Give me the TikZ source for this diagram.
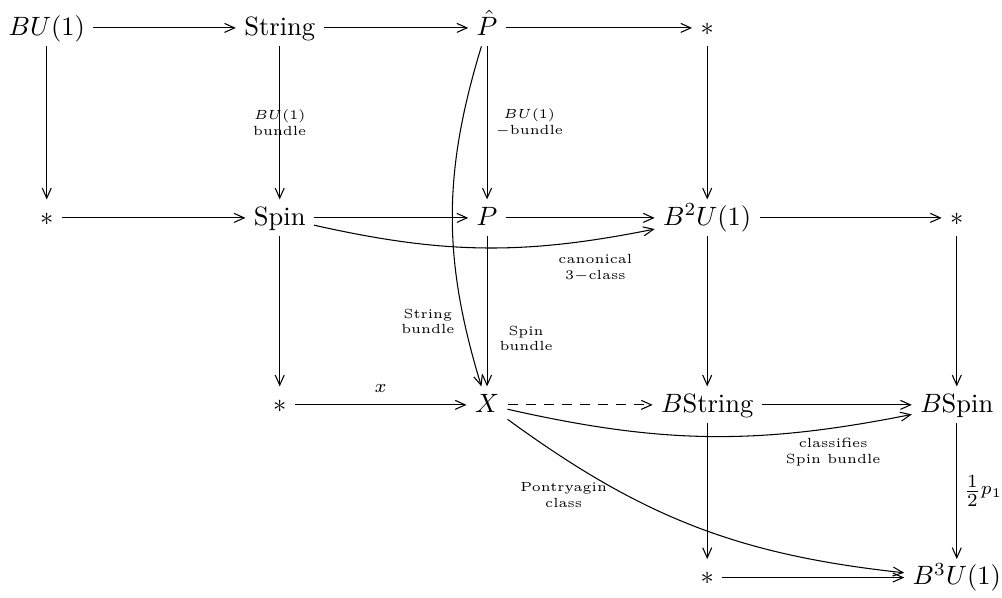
\documentclass[tikz,border=0pt]{standalone}
\usepackage{amsmath}
\usetikzlibrary{arrows.meta}

\begin{document}
\begin{tikzpicture}[
  >={Straight Barb[length=3.8pt,width=3.4pt]},
  obj/.style={inner sep=3pt, text height=1.5ex, text depth=.25ex},
  arr/.style={->, line width=0.4pt},
  lbl/.style={font=\tiny, align=center, inner sep=1.5pt}
]
  \useasboundingbox (0,0) rectangle (13.29,7.93);

  % objects, row by row
  \node[obj] (bu1)  at (0.62,7.56)  {$BU(1)$};
  \node[obj] (str)  at (3.71,7.56)  {String};
  \node[obj] (phat) at (6.46,7.56)  {$\hat{P}$};
  \node[obj] (ptA)  at (9.38,7.56)  {$*$};

  \node[obj] (ptB)  at (0.62,5.04)  {$*$};
  \node[obj] (spin) at (3.71,5.04)  {Spin};
  \node[obj] (p)    at (6.46,5.04)  {$P$};
  \node[obj] (b2u)  at (9.38,5.04)  {$B^2U(1)$};
  \node[obj] (ptC)  at (12.69,5.04) {$*$};

  \node[obj] (ptD)  at (3.71,2.56)  {$*$};
  \node[obj] (x)    at (6.46,2.56)  {$X$};
  \node[obj] (bstr) at (9.38,2.56)  {$B$String};
  \node[obj] (bspin) at (12.69,2.56) {$B$Spin};

  \node[obj] (ptE)  at (9.38,0.27)  {$*$};
  \node[obj] (b3u)  at (12.69,0.27) {$B^3U(1)$};

  % horizontal arrows
  \draw[arr] (bu1) -- (str);
  \draw[arr] (str) -- (phat);
  \draw[arr] (phat) -- (ptA);
  \draw[arr] (ptB) -- (spin);
  \draw[arr] (spin) -- (p);
  \draw[arr] (p) -- (b2u);
  \draw[arr] (b2u) -- (ptC);
  \draw[arr] (ptD) -- node[lbl, above=3pt, font=\scriptsize] {$x$} (x);
  \draw[arr, dash pattern=on 4pt off 2.8pt] (x) -- (bstr);
  \draw[arr] (bstr) -- (bspin);
  \draw[arr] (ptE) -- (b3u);

  % vertical arrows
  \draw[arr] (bu1) -- (ptB);
  \draw[arr] (str) -- node[lbl] {$BU(1)$\\bundle} (spin);
  \draw[arr] (phat) -- node[lbl, right=1.5pt] {$BU(1)$\\$-$bundle} (p);
  \draw[arr] (ptA) -- (b2u);
  \draw[arr] (spin) -- (ptD);
  \draw[arr] (p) -- node[lbl, pos=0.68, right=3pt] {Spin\\bundle} (x);
  \draw[arr] (b2u) -- (bstr);
  \draw[arr] (ptC) -- (bspin);
  \draw[arr] (bstr) -- (ptE);
  \draw[arr] (bspin) -- node[right=1.5pt, inner sep=1pt] {$\frac{1}{2}\raisebox{1.2pt}{$\scriptstyle p_1$}$} (b3u);

  % curved arrows
  \draw[arr] (spin) to[bend right=12] node[lbl, pos=0.84, below=4pt] {canonical\\3$-$class} (b2u);
  \draw[arr] (phat) to[bend right=17] node[lbl, pos=0.82, left=2pt] {String\\bundle} (x);
  \draw[arr] (x) to[bend right=12] node[lbl, pos=0.82, below=2pt] {classifies\\Spin bundle} (bspin);
  \draw[arr] (x) to[bend right=15] node[lbl, pos=0.23, anchor=north east, xshift=6pt] {Pontryagin\\class} (b3u);
\end{tikzpicture}
\end{document}
